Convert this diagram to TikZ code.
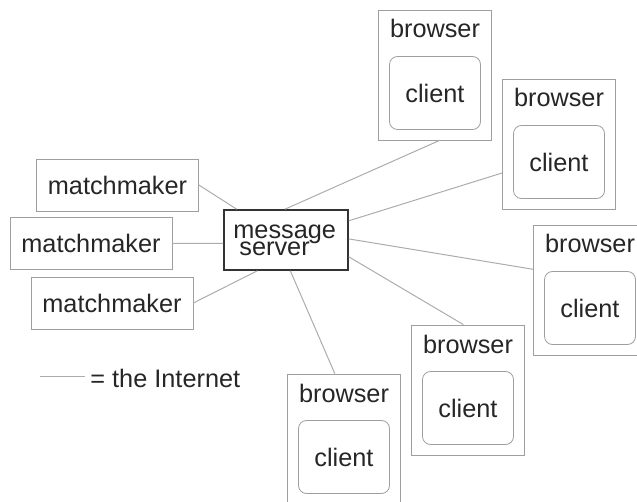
\documentclass[tikz,border=0pt]{standalone}
\usepackage{fontspec}
\setmainfont{Liberation Sans}
\tikzstyle{txt}=[inner sep=0,text=black!85,font=\fontsize{12.65}{15}\selectfont]
\tikzstyle{mmbox}=[txt,shape=rectangle,minimum width=81pt,minimum height=26pt,draw=gray!75]
\tikzstyle{serverbox}=[shape=rectangle,minimum width=62pt,minimum height=30pt,inner sep=0,draw=black!80,line width=0.8pt]
\tikzstyle{browserbox}=[shape=rectangle,minimum width=56.5pt,minimum height=65pt,inner sep=0,draw=gray!75]
\tikzstyle{clientbox}=[txt,shape=rectangle,rounded corners=4pt,minimum width=45.5pt,minimum height=36.5pt,draw=gray!75]
\tikzstyle{net}=[gray!65,line width=0.5pt]
\begin{document}
\begin{tikzpicture}[x=0.5pt,y=-0.5pt]
\useasboundingbox (0,0) rectangle (637,502);
\clip (0,0) rectangle (637,502);
% matchmakers and the server
\node[mmbox] (mm1) at (117.5,185) {matchmaker};
\node[mmbox] (mm2) at (91,243.5) {matchmaker};
\node[mmbox] (mm3) at (112,303) {matchmaker};
\node[serverbox] (server) at (286,240) {};
\node[txt,anchor=base west] (msgtxt) at (233,239) {message};
\node[txt,anchor=base west] (srvtxt) at (239,256) {server};
% browsers with their clients
\foreach \n/\x/\y in {1/435/75,2/559/144,3/590/290,4/468/390,5/344/439}{
	\node[browserbox] (b\n) at (\x,\y) {};
	\node[txt,anchor=base] (b\n txt) at (\x,\y-37) {browser};
	\node[clientbox] (c\n) at (\x,\y+18) {client};
}
% the Internet
\draw[net] (server.148.5) -- (mm1.east);
\draw[net] (server.183.7) -- (mm2.east);
\draw[net] (server.227) -- (mm3.east);
\foreach \n/\a/\b in {1/92/274,2/17/207,3/1/160,4/345.5/94,5/278/98}
	\draw[net] (server.\a) -- (b\n.\b);
% legend
\coordinate (l1) at (40,376);
\coordinate (l2) at (85,376);
\draw[net] (l1) -- (l2);
\node[txt,anchor=base west] (legend) at (90,387) {= the Internet};
\end{tikzpicture}
\end{document}
